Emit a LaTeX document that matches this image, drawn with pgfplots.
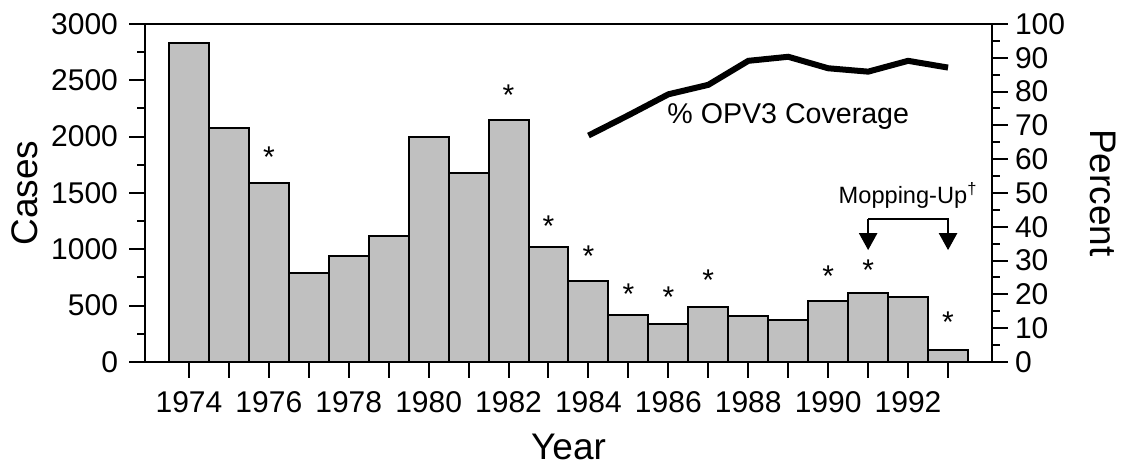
\documentclass[border=0pt]{standalone}
\usepackage{fontspec}
\setmainfont{Liberation Sans}
\usepackage{pgfplots}
\pgfplotsset{compat=1.18}
\usetikzlibrary{arrows.meta}
\newcommand{\tickfont}{\fontsize{15}{18}\selectfont}
\newcommand{\labfont}{\fontsize{18.5}{22}\selectfont}
\pgfplotsset{
  common/.style={
    scale only axis, width=423.5pt, height=169pt,
    xmin=1972.9, xmax=1994.1,
    axis line style={line width=1pt},
    every tick/.style={black, line width=1pt},
    tick align=outside,
    major tick length=8pt, minor tick length=4pt,
    tick label style={font=\tickfont},
    /pgf/number format/assume math mode=true,
    /pgf/number format/1000 sep={},
    clip=false,
  }
}
\begin{document}
\begin{tikzpicture}
\begin{axis}[common,
  ymin=0, ymax=3000,
  ytick={0,500,...,3000}, minor y tick num=1,
  ytick pos=left, xtick pos=bottom,
  xtick={1974,...,1993},
  xticklabels={1974,,1976,,1978,,1980,,1982,,1984,,1986,,1988,,1990,,1992,},
  xticklabel style={yshift=-3pt},
  yticklabel style={xshift=-2pt},
  ylabel={Cases}, xlabel={Year},
  ylabel style={font=\labfont, at={(axis description cs:-0.1417,0.5)}, anchor=center},
  xlabel style={font=\labfont, at={(axis description cs:0.5,-0.2515)}, anchor=center},
]
\coordinate (bl) at (rel axis cs:0,0);
\coordinate (tr) at (rel axis cs:1,1);
\addplot[ybar, bar width=1, bar shift=0pt, fill={rgb,255:red,192;green,192;blue,192}, draw=black, line width=1pt]
coordinates {
(1974,2830) (1975,2080) (1976,1590) (1977,790) (1978,940) (1979,1120)
(1980,2000) (1981,1680) (1982,2150) (1983,1020) (1984,715) (1985,420)
(1986,335) (1987,485) (1988,410) (1989,370) (1990,540) (1991,610)
(1992,575) (1993,105)
};
\addplot[draw=none, mark=none, nodes near coords={*},
  every node near coord/.style={anchor=base, font=\tickfont, inner sep=0pt, yshift=1.5pt}]
coordinates {
(1976,1704) (1982,2246) (1983,1083) (1984,817) (1985,488) (1986,453)
(1987,604) (1990,639) (1991,701) (1993,231)
};
\end{axis}
\begin{axis}[common,
  ymin=0, ymax=100,
  ytick={0,10,...,100}, minor y tick num=1,
  ytick pos=right, xtick=\empty,
  ylabel={Percent},
  ylabel style={font=\labfont, at={(axis description cs:1.131,0.5)}, anchor=center, rotate=180},
]
\addplot[line width=3pt, black, mark=none] coordinates {
(1984,67) (1985,73) (1986,79.2) (1987,82) (1988,89.1) (1989,90.3)
(1990,86.9) (1991,85.9) (1992,89.1) (1993,87.1)
};
\node[font=\fontsize{14.3}{17}\selectfont] at (axis cs:1989,72.5) {\% OPV3 Coverage};
\node[font=\fontsize{11.8}{14}\selectfont] at (axis cs:1992,49.3) {Mopping-Up\textsuperscript{\dag}};
\draw[line width=1.2pt, -{Triangle[width=9pt,length=8.5pt]}] (axis cs:1991,42.3) -- (axis cs:1991,33.1);
\draw[line width=1.2pt, -{Triangle[width=9pt,length=8.5pt]}] (axis cs:1991,42.3) -- (axis cs:1993,42.3) -- (axis cs:1993,33.1);
\end{axis}
\pgfresetboundingbox
\path ([shift={(-72.5pt,-53.5pt)}]bl) rectangle ([shift={(66.5pt,12pt)}]tr);
\end{tikzpicture}
\end{document}
